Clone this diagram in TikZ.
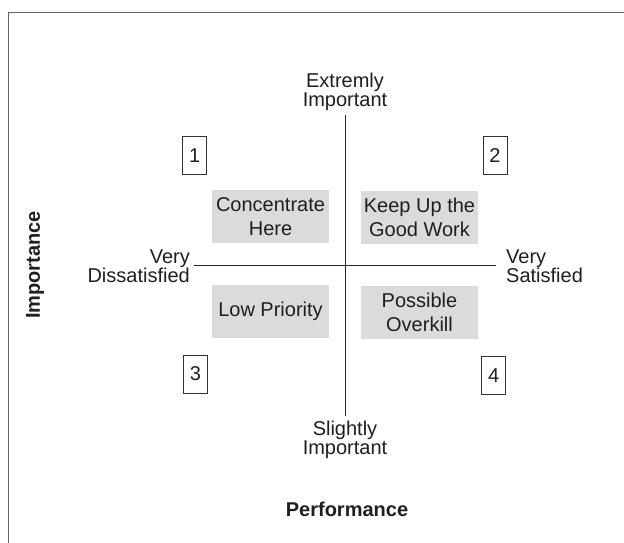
\documentclass[tikz,border=0pt]{standalone}
\usepackage{fontspec}
\setmainfont{Liberation Sans}
\begin{document}
\begin{tikzpicture}[x=1pt,y=-1pt,
  every node/.style={font=\fontsize{20}{19}\selectfont, text=black!88, inner sep=0pt},
  axislabel/.style={align=center},
  quadbox/.style={fill=black!14, minimum width=117pt, minimum height=53pt, align=center,
    font=\fontsize{20}{24}\selectfont},
  numbox/.style={draw=black!80, line width=0.9pt, minimum width=24pt, minimum height=38pt},
  axisline/.style={draw=black!85, line width=1pt},
  title/.style={font=\fontsize{20}{24}\selectfont\bfseries}]
\useasboundingbox (0,0) rectangle (624,542);
% outer frame, running off the right and bottom edges
\draw[black!60, line width=1.2pt] (8.7,560) -- (8.7,12.3) -- (640,12.3);

% axis end points
\coordinate (top) at (345,115);
\coordinate (bottom) at (345,416);
\coordinate (left) at (194,265);
\coordinate (right) at (496,265);
\draw[axisline] (top) -- (bottom);
\draw[axisline] (left) -- (right);

% axis end labels
\node[axislabel] (ext) at (345,91.5) {Extremly\\Important};
\node[axislabel] (sli) at (345,440) {Slightly\\Important};
\node[axislabel, align=right, anchor=east] (dis) at (190,266) {Very\\Dissatisfied};
\node[axislabel, align=left, anchor=west] (sat) at (506,266) {Very\\Satisfied};

% quadrant numbers
\node[numbox] (n1) at (194.7,155.3) {1};
\node[numbox] (n2) at (495,155.5) {2};
\node[numbox] (n3) at (195.5,374) {3};
\node[numbox] (n4) at (493.7,375.8) {4};

% quadrant captions
\node[quadbox] (q1) at (270.5,216.5) {Concentrate\\Here};
\node[quadbox] (q2) at (419.5,217.5) {Keep Up the\\Good Work};
\node[quadbox] (q3) at (270.5,311) {Low Priority};
\node[quadbox] (q4) at (419.5,312) {Possible\\Overkill};

% axis titles
\node[title, rotate=90] (imp) at (35,265) {Importance};
\node[title] (perf) at (347,509) {Performance};
\end{tikzpicture}
\end{document}
